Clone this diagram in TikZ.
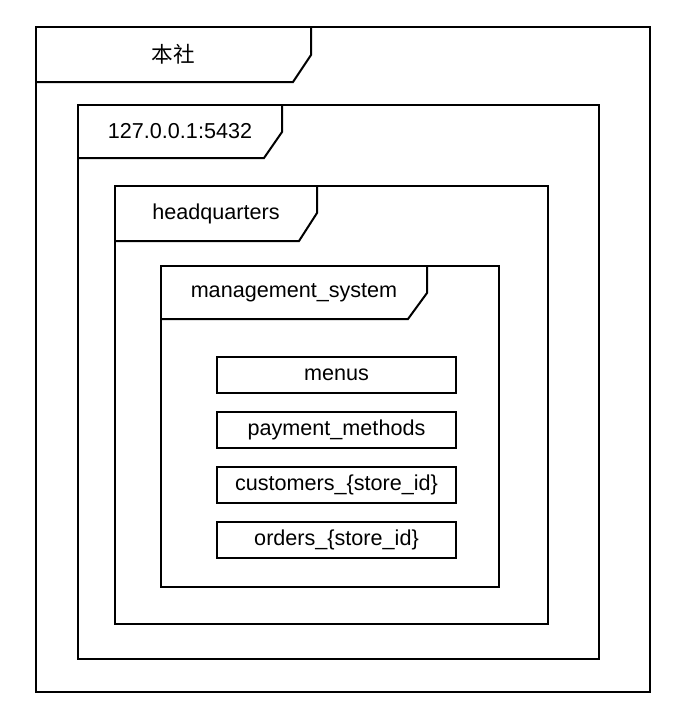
\documentclass[tikz,border=0pt]{standalone}
\usepackage{fontspec}
\setmainfont{Liberation Sans}
\newfontfamily\cjk{Noto Sans CJK SC}
\begin{document}
\begin{tikzpicture}[x=0.5pt,y=-0.5pt,line width=1pt,
				every node/.style={font=\fontsize{10.8}{13}\selectfont},
				table/.style={draw,line width=1pt,minimum width=119.5pt,minimum height=18pt,inner sep=0pt}]
\useasboundingbox (0,0) rectangle (688,719);
\draw (36,27) rectangle (650,692);
\draw (36,82) -- (293,82) -- (311,55) -- (311,27);
\node (site) at (173.5,54.5) {\cjk 本社};
\draw (78,105) rectangle (599,659);
\draw (78,158) -- (264,158) -- (282,132) -- (282,105);
\node (host) at (180,131.5) {127.0.0.1:5432};
\draw (115,186) rectangle (548,624);
\draw (115,241) -- (299,241) -- (317,213) -- (317,186);
\node (db) at (216,213.5) {headquarters};
\draw (161,266) rectangle (499,587);
\draw (161,319) -- (408,319) -- (427,293) -- (427,266);
\node (schema) at (294,292.5) {management\_system};
\node[table] (menus) at (336.5,375) {menus};
\node[table] (payment) at (336.5,430) {payment\_methods};
\node[table] (customers) at (336.5,485) {customers\_\{store\_id\}};
\node[table] (orders) at (336.5,540) {orders\_\{store\_id\}};
\end{tikzpicture}
\end{document}
